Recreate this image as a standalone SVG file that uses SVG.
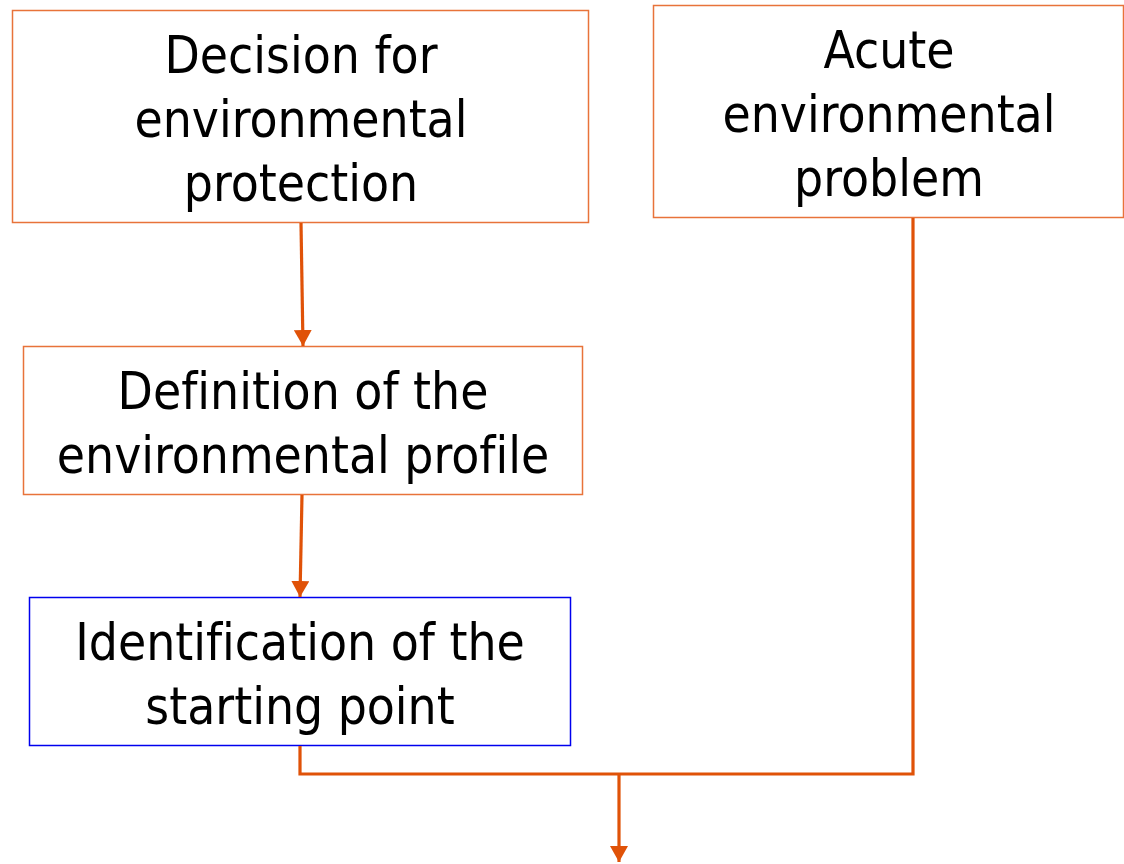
<svg xmlns="http://www.w3.org/2000/svg" width="1124" height="864" viewBox="0 0 1124 864">
<style>
.box{fill:#fff;stroke:#E8733A;stroke-width:1.5}
.blue{fill:#fff;stroke:#0000EE;stroke-width:1.5}
.t{font-family:"DejaVu Sans Condensed","DejaVu Sans",sans-serif;font-stretch:condensed;font-size:51px;fill:#000;text-anchor:middle;font-variant-ligatures:none;font-feature-settings:"liga" 0}
.c{fill:none;stroke:#E05208;stroke-width:3.2}
</style>
<defs>
<marker id="ah" viewBox="0 0 16 18" refX="16" refY="9" markerWidth="16" markerHeight="18" markerUnits="userSpaceOnUse" orient="auto">
<path d="M0,0 L16,9 L0,18 Z" fill="#E05208"/>
</marker>
</defs>
<g id="n1">
<rect class="box" x="12.5" y="10.5" width="576" height="212"/>
<text class="t" x="301" y="73">Decision for</text>
<text class="t" x="301" y="137">environmental</text>
<text class="t" x="301" y="201">protection</text>
</g>
<g id="n2">
<rect class="box" x="653.5" y="5.5" width="470" height="212"/>
<text class="t" x="889" y="68">Acute</text>
<text class="t" x="889" y="132">environmental</text>
<text class="t" x="889" y="196">problem</text>
</g>
<g id="n3">
<rect class="box" x="23.5" y="346.5" width="559" height="148"/>
<text class="t" x="303" y="409">Definition of the</text>
<text class="t" x="303" y="473">environmental profile</text>
</g>
<g id="n4">
<rect class="blue" x="29.5" y="597.5" width="541" height="148"/>
<text class="t" x="300" y="660">Identification of the</text>
<text class="t" x="300" y="724">starting point</text>
</g>
<g id="connectors">
<line class="c" x1="301" y1="223" x2="303" y2="346" marker-end="url(#ah)"/>
<line class="c" x1="302" y1="495" x2="300" y2="597" marker-end="url(#ah)"/>
<polyline class="c" points="300,746 300,774 913,774 913,218"/>
<line class="c" x1="619" y1="774" x2="619" y2="862" marker-end="url(#ah)"/>
</g>
</svg>
